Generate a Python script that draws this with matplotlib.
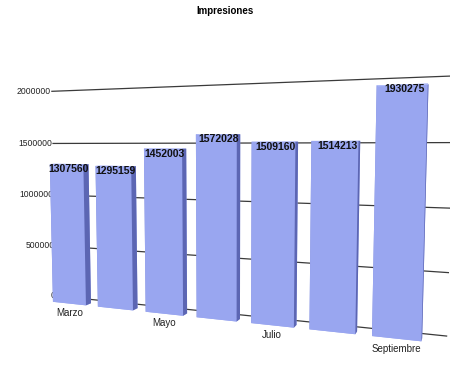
import numpy as np
import matplotlib
matplotlib.use("Agg")
import matplotlib.pyplot as plt

# data
months = ["Marzo", "Abril", "Mayo", "Junio", "Julio", "Agosto", "Septiembre"]
impressions = [1307560, 1295159, 1452003, 1572028, 1509160, 1514213, 1930275]
ticks = [0, 500000, 1000000, 1500000, 2000000]
shown_months = ["Marzo", "Mayo", "Julio", "Septiembre"]

plt.rcParams["font.family"] = ["Liberation Sans", "DejaVu Sans"]

fig = plt.figure(figsize=(4.5, 3.66), dpi=100)
ax = fig.add_axes([-0.267, -0.235, 1.52, 1.365], projection="3d",
                  proj_type="persp", focal_length=0.23)
ax.computed_zorder = False
ax.view_init(elev=4.5, azim=-69)
ax.set_axis_off()
ax.set_box_aspect((8.4, 1.0, 4.55))

n = len(months)
xs = np.arange(n)
bar_w = 0.74
y_front, y_depth = 0.15, 0.18
y_back = 0.6

ax.set_xlim(-0.8, 7.0)
ax.set_ylim(0, 1)
ax.set_zlim(0, 2.1e6)

# grid lines on the back wall
for t in ticks:
    ax.plot([-0.6, 6.72], [y_back, y_back], [t, t], color="#3a3a3a", lw=0.9, zorder=1)
    ax.text(-0.62, y_back, t, str(t), ha="right", va="center", fontsize=6.2,
            color="#222222", zorder=1)

# faces: bottom, top, front, back, left, right
front = (0.6, 0.65, 0.94)
face_cols = []
for _ in range(n):
    face_cols += [front, (0.7, 0.75, 0.98), front, front,
                  (0.52, 0.57, 0.86), (0.36, 0.4, 0.7)]
ax.bar3d(xs - bar_w / 2, np.full(n, y_front), np.zeros(n), bar_w, y_depth,
         impressions, color=face_cols, shade=False, zorder=2)

for x, v in zip(xs, impressions):
    ax.text(x + 0.04, y_front, v, str(v), ha="center", va="top", fontsize=7.5,
            fontweight="bold", color="#111111", zorder=3)

for x, m in zip(xs, months):
    if m in shown_months:
        ax.text(x, y_front, -40000, m, ha="center", va="top", fontsize=7,
                color="#222222", zorder=3)

fig.text(0.5, 0.97, "Impresiones", ha="center", va="center", fontsize=7,
         fontweight="bold")

fig.savefig("out.png", dpi=100)
